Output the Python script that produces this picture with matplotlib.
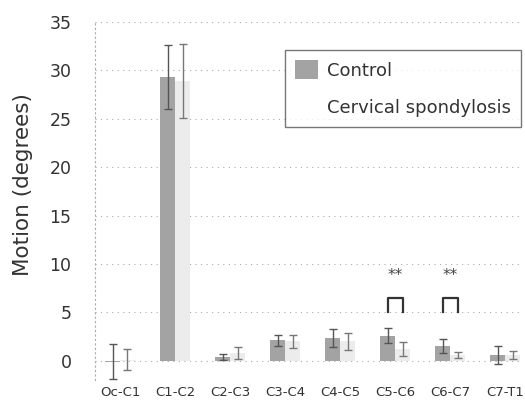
import matplotlib
matplotlib.use("Agg")
import matplotlib.pyplot as plt
import numpy as np
from matplotlib.patches import Patch

categories = ["Oc-C1", "C1-C2", "C2-C3", "C3-C4", "C4-C5", "C5-C6", "C6-C7", "C7-T1"]
control = [-0.1, 29.3, 0.4, 2.1, 2.35, 2.6, 1.55, 0.6]
control_err = [1.8, 3.3, 0.3, 0.6, 0.9, 0.8, 0.75, 0.9]
cs = [0.1, 28.9, 0.8, 2.0, 2.0, 1.2, 0.6, 0.6]
cs_err = [1.1, 3.8, 0.6, 0.7, 0.9, 0.7, 0.35, 0.4]
sig_idx = [5, 6]
sig_label = "**"
yticks = [0, 5, 10, 15, 20, 25, 30, 35]

fig = plt.figure(figsize=(5.25, 4.01), dpi=100)
ax = fig.add_axes([0.181, 0.052, 0.814, 0.893])

x = np.arange(len(categories))
w = 0.27
ax.bar(x - w/2, control, w, color="#a3a3a3", zorder=2, label="Control")
ax.bar(x + w/2, cs, w, color="#ececec", zorder=2, label="Cervical spondylosis")
ax.errorbar(x - w/2, control, yerr=control_err, fmt="none", ecolor="#555555",
            elinewidth=1, capsize=3, capthick=1, zorder=3)
ax.errorbar(x + w/2, cs, yerr=cs_err, fmt="none", ecolor="#777777",
            elinewidth=1, capsize=3, capthick=1, zorder=3)

for i in sig_idx:
    xl, xr = i - w/2, i + w/2
    ax.plot([xl, xl, xr, xr], [5.0, 6.5, 6.5, 5.0], color="#333333", lw=1.6, zorder=3)
    ax.text(i, 8.8, sig_label, ha="center", va="center", fontsize=11, color="#444444")

ax.set_ylim(-2, 35)
ax.set_xlim(-0.455, 7.31)
ax.set_yticks(yticks)
ax.set_yticklabels([str(t) for t in yticks], fontsize=12.5, color="#333333")
ax.set_xticks(x)
ax.set_xticklabels(categories, fontsize=9.5, color="#333333")
ax.tick_params(length=0, pad=4)
ax.tick_params(axis="y", pad=17)
ax.grid(axis="y", linestyle=(0, (1, 4)), color="#aaaaaa", lw=0.8, zorder=0)
for s in ["top", "right", "bottom"]:
    ax.spines[s].set_visible(False)
ax.spines["left"].set_linestyle((0, (1, 3)))
ax.spines["left"].set_color("#aaaaaa")
ax.spines["left"].set_linewidth(0.8)

ax.set_ylabel("Motion (degrees)", fontsize=15.5, color="#333333")
ax.yaxis.set_label_coords(-0.145, 0.545)

handles = [Patch(facecolor="#a3a3a3"), Patch(facecolor="white", edgecolor="white")]
leg = fig.legend(handles, ["Control", "Cervical spondylosis"], loc="upper right",
                 bbox_to_anchor=(521/525, 1 - 50/401), bbox_transform=fig.transFigure,
                 borderaxespad=0, fontsize=13, frameon=True,
                 fancybox=False, edgecolor="#555555", handlelength=1.3,
                 handleheight=1.25, labelspacing=1.0, borderpad=0.55,
                 handletextpad=0.5)
leg.get_frame().set_linewidth(1.0)
for t in leg.get_texts():
    t.set_color("#333333")

fig.savefig("out.png", dpi=100)
